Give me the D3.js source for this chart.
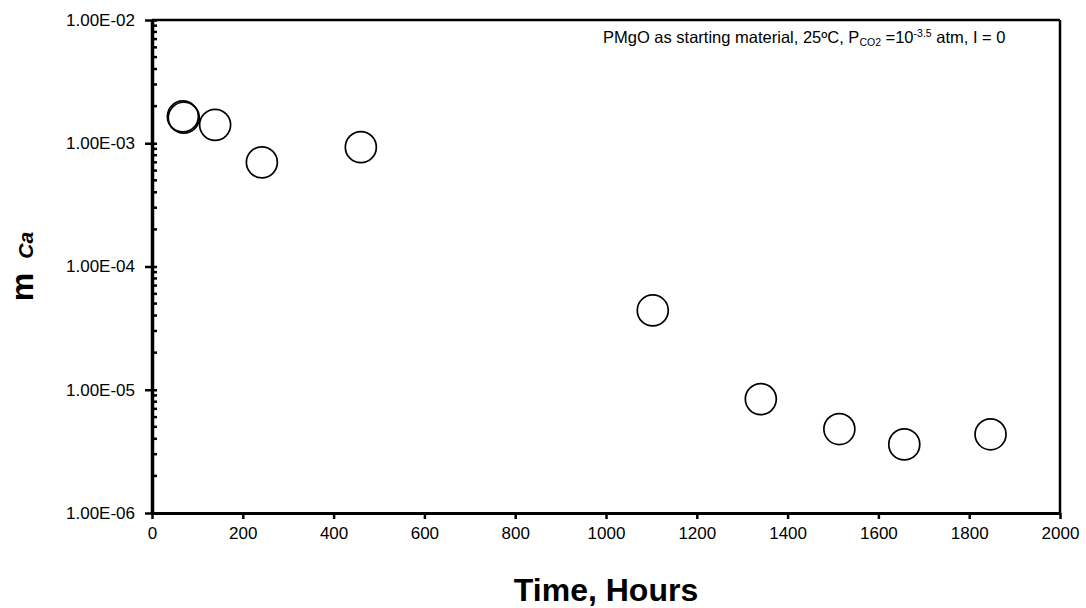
<!DOCTYPE html>
<html>
<head>
<meta charset="utf-8">
<script src="https://cdn.jsdelivr.net/npm/d3@7"></script>
<style>
  html, body { margin: 0; padding: 0; background: #fff; }
  svg { display: block; }
  text { font-family: "Liberation Sans", Arial, sans-serif; fill: #000; }
</style>
</head>
<body>
<svg id="chart" width="1086" height="608"></svg>
<script>
// Elapsed time (hours) and measured Ca molality
const hours = [68, 70, 139, 242, 460, 1103, 1341, 1514, 1657, 1847];
const mCa = [1.65e-3, 1.61e-3, 1.41e-3, 7.0e-4, 9.3e-4, 4.4e-5, 8.4e-6, 4.8e-6, 3.6e-6, 4.35e-6];

// Axis ticks
const xTicks = [0, 200, 400, 600, 800, 1000, 1200, 1400, 1600, 1800, 2000];
const yTicks = [1e-2, 1e-3, 1e-4, 1e-5, 1e-6];
const yTickLabels = ["1.00E-02", "1.00E-03", "1.00E-04", "1.00E-05", "1.00E-06"];

const W = 1086, H = 608;
const margin = { top: 20, right: 26, bottom: 95, left: 152 };
const svg = d3.select("#chart");

const x = d3.scaleLinear().domain([0, 2000]).range([margin.left, W - margin.right]);
const y = d3.scaleLog().domain([1e-6, 1e-2]).range([H - margin.bottom, margin.top]);

// Minor log ticks (2..9 per decade)
const minor = [];
for (let e = -6; e < -2; e++) {
  for (let m = 2; m <= 9; m++) minor.push(m * Math.pow(10, e));
}

// Bottom axis
const xAxis = d3.axisBottom(x).tickValues(xTicks).tickFormat(d => String(d))
  .tickSize(6).tickSizeOuter(0).tickPadding(8);
const gx = svg.append("g").attr("transform", `translate(0,${H - margin.bottom})`).call(xAxis);
gx.select(".domain").attr("stroke-width", 3);
gx.selectAll(".tick line").attr("stroke-width", 2.5);
gx.selectAll(".tick text").style("font-size", "17px").attr("dy", "0.71em");

// Left axis with major ticks crossing the line
const yAxis = d3.axisLeft(y).tickValues(yTicks)
  .tickFormat((d, i) => yTickLabels[i]).tickSize(7).tickSizeOuter(0).tickPadding(10);
const gy = svg.append("g").attr("transform", `translate(${margin.left},0)`).call(yAxis);
gy.select(".domain").attr("stroke-width", 3.5);
gy.selectAll(".tick line").attr("x2", 5).attr("x1", -7).attr("stroke-width", 2.5);
gy.selectAll(".tick text").style("font-size", "17px");

// Minor ticks pointing into the plot
svg.append("g").selectAll("line").data(minor).join("line")
  .attr("x1", margin.left).attr("x2", margin.left + 5)
  .attr("y1", d => y(d)).attr("y2", d => y(d))
  .attr("stroke", "#000").attr("stroke-width", 2.5);

// Top and right frame
svg.append("line")
  .attr("x1", x(0)).attr("x2", x(2000)).attr("y1", y(1e-2)).attr("y2", y(1e-2))
  .attr("stroke", "#000").attr("stroke-width", 2.5);
svg.append("line")
  .attr("x1", x(2000)).attr("x2", x(2000)).attr("y1", y(1e-2)).attr("y2", y(1e-6))
  .attr("stroke", "#000").attr("stroke-width", 2.5);

// Data markers
svg.append("g").selectAll("circle").data(hours).join("circle")
  .attr("cx", d => x(d))
  .attr("cy", (d, i) => y(mCa[i]))
  .attr("r", 15.5)
  .attr("fill", "none")
  .attr("stroke", "#000")
  .attr("stroke-width", 1.7);

// Axis titles
svg.append("text")
  .attr("x", (x(0) + x(2000)) / 2).attr("y", 601)
  .attr("text-anchor", "middle")
  .style("font-size", "32px").style("font-weight", "bold")
  .text("Time, Hours");

const yl = svg.append("text")
  .attr("transform", `translate(33,${(y(1e-2) + y(1e-6)) / 2}) rotate(-90)`)
  .attr("text-anchor", "middle");
yl.append("tspan").style("font-size", "32px").style("font-weight", "bold").text("m");
yl.append("tspan").attr("dx", 14).style("font-size", "21px").style("font-style", "italic")
  .style("font-weight", "bold").text("Ca");

// Experiment conditions
const note = svg.append("text").attr("x", 603).attr("y", 43).style("font-size", "16.5px");
note.append("tspan").text("PMgO as starting material, 25ºC, P");
note.append("tspan").attr("dy", 3).style("font-size", "10.5px").text("CO2");
note.append("tspan").attr("dy", -3).text(" =10");
note.append("tspan").attr("dy", -6).style("font-size", "10.5px").text("-3.5");
note.append("tspan").attr("dy", 6).text(" atm, I = 0");
</script>
</body>
</html>
